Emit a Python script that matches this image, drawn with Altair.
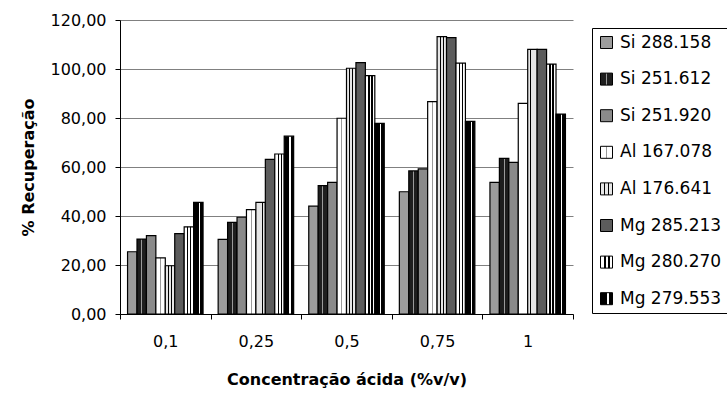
import altair as alt
import pandas as pd

# ---- data ----
concentrations = ["0,1", "0,25", "0,5", "0,75", "1"]
series_names = ["Si 288.158", "Si 251.612", "Si 251.920", "Al 167.078",
                "Al 176.641", "Mg 285.213", "Mg 280.270", "Mg 279.553"]
si_288_158 = [25.4, 30.5, 44.0, 49.9, 53.7]
si_251_612 = [30.6, 37.4, 52.4, 58.4, 63.5]
si_251_920 = [32.0, 39.5, 53.7, 59.2, 61.9]
al_167_078 = [22.9, 42.6, 79.9, 86.7, 86.0]
al_176_641 = [19.7, 45.6, 100.3, 113.2, 108.0]
mg_285_213 = [32.8, 63.1, 102.6, 112.8, 108.0]
mg_280_270 = [35.6, 65.3, 97.3, 102.4, 102.0]
mg_279_553 = [45.6, 72.6, 77.8, 78.6, 81.6]
y_ticks = [0, 20, 40, 60, 80, 100, 120]

all_values = [si_288_158, si_251_612, si_251_920, al_167_078,
              al_176_641, mg_285_213, mg_280_270, mg_279_553]
rows = []
for name, vals in zip(series_names, all_values):
    for c, v in zip(concentrations, vals):
        rows.append({"conc": c, "serie": name, "valor": v})
df = pd.DataFrame(rows)


# ---- fill styles (approximating the Excel hatch patterns) ----
def vstripes(base, bands):
    """vertical stripes as a hard-stop linear gradient (bbox units)"""
    stops = [(0.0, base)]
    for a, b, col in bands:
        stops += [(a, base), (a, col), (b, col), (b, base)]
    stops.append((1.0, base))
    s = ", ".join("{offset: %g, color: '%s'}" % (o, c) for o, c in stops)
    return alt.ExprRef(expr="{gradient: 'linear', x1: 0, y1: 0, x2: 1, y2: 0, stops: [%s]}" % s)


def solid(col):
    return alt.ExprRef(expr="'%s'" % col)


fills = [
    solid("#9c9c9c"),                                                   # Si 288.158
    vstripes("#1e1e1e", [(0.45, 0.55, "#9a9a9a")]),                     # Si 251.612
    solid("#8a8a8a"),                                                   # Si 251.920
    vstripes("#ffffff", [(0.45, 0.55, "#9a9a9a")]),                     # Al 167.078
    vstripes("#e6e6e6", [(0.28, 0.38, "#000000"), (0.62, 0.72, "#000000")]),  # Al 176.641
    solid("#5c5c5c"),                                                   # Mg 285.213
    vstripes("#ffffff", [(0.3, 0.45, "#000000"), (0.62, 0.77, "#000000")]),   # Mg 280.270
    vstripes("#000000", [(0.55, 0.68, "#ffffff")]),                     # Mg 279.553
]

FONT = "DejaVu Sans"

bars = alt.Chart(df).mark_bar(stroke="black", strokeWidth=1.2, opacity=1).encode(
    x=alt.X(
        "conc:N",
        sort=concentrations,
        title="Concentração ácida (%v/v)",
        scale=alt.Scale(paddingInner=0, paddingOuter=0),
        axis=alt.Axis(
            labelAngle=0, tickBand="extent", tickSize=5, labelPadding=14,
            titlePadding=22, domainColor="black", tickColor="black", grid=False,
            labelFontSize=16, titleFontSize=16, titleFontWeight="bold",
            labelColor="black", titleColor="black",
        ),
    ),
    xOffset=alt.XOffset(
        "serie:N", sort=series_names,
        scale=alt.Scale(paddingInner=0, paddingOuter=0.8),
    ),
    y=alt.Y(
        "valor:Q",
        title="% Recuperação",
        scale=alt.Scale(domain=[0, 120], nice=False),
        axis=alt.Axis(
            values=y_ticks,
            labelExpr="replace(format(datum.value, '.2f'), '.', ',')",
            tickSize=5, labelPadding=9, titlePadding=14,
            domainColor="black", tickColor="black",
            gridColor="#808080", gridWidth=1,
            labelFontSize=16, titleFontSize=16, titleFontWeight="bold",
            labelColor="black", titleColor="black",
        ),
    ),
    color=alt.Color(
        "serie:N",
        sort=series_names,
        scale=alt.Scale(domain=series_names, range=fills),
        legend=alt.Legend(
            title=None, orient="none", legendX=472, legendY=8,
            symbolType="square", symbolSize=144, symbolStrokeColor="black",
            symbolStrokeWidth=1, symbolOpacity=1,
            labelFontSize=17, labelColor="black", labelOffset=5,
            rowPadding=18.6, padding=6,
            strokeColor="black", fillColor="white",
        ),
    ),
).properties(
    width=453,
    height=294,
    autosize=alt.AutoSizeParams(type="none"),
    padding={"left": 120, "top": 20, "right": 154, "bottom": 79},
).configure(
    font=FONT,
).configure_view(
    stroke=None,
)

bars.save("out.html", embed_options={"renderer": "svg", "actions": False})
